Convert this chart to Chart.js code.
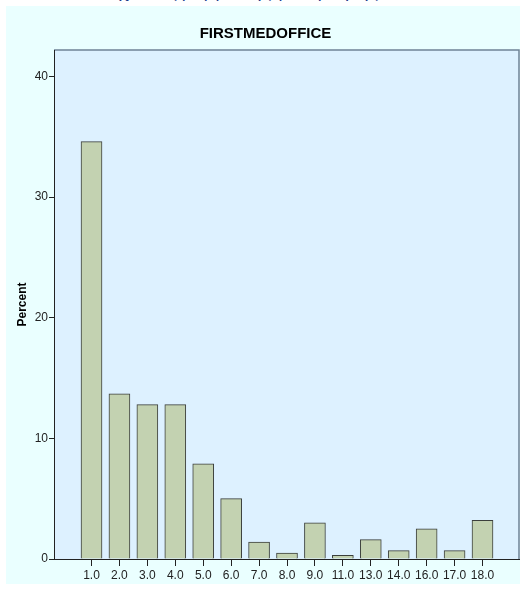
<!DOCTYPE html>
<html>
<head>
<meta charset="utf-8">
<script src="https://cdn.jsdelivr.net/npm/chart.js@4.4.1/dist/chart.umd.min.js"></script>
<style>
  html, body { margin: 0; padding: 0; background: #ffffff; }
  body { width: 522px; height: 589px; position: relative; overflow: hidden; }
  .caption {
    position: absolute; left: 120px; top: -22px; z-index: 1;
    font: italic 18px "Noto Sans", sans-serif; color: #1d3b8c; white-space: nowrap;
    letter-spacing: 1px;
  }
  .panel {
    position: absolute; left: 6px; top: 6px; width: 514px; height: 578px;
    background: #eaffff; z-index: 2;
  }
  #chart { position: absolute; left: 0; top: 0; z-index: 3; }
</style>
</head>
<body>
<div class="caption">χ(ιστόγραμμα της μεταβλητής)</div>
<div class="panel"></div>
<canvas id="chart" width="522" height="589"></canvas>
<script>
const categories = ["1.0", "2.0", "3.0", "4.0", "5.0", "6.0", "7.0", "8.0",
  "9.0", "11.0", "13.0", "14.0", "16.0", "17.0", "18.0"];
const percentValues = [34.6, 13.7, 12.8, 12.8, 7.9, 5.0, 1.4, 0.5,
  3.0, 0.3, 1.6, 0.7, 2.5, 0.7, 3.2];
const yTicks = [0, 10, 20, 30, 40];

const sans = "'Liberation Sans', Arial, sans-serif";

// fill the plot area and draw its top / right frame
const plotFrame = {
  id: "plotFrame",
  beforeDraw(chart) {
    const { ctx, chartArea: a } = chart;
    ctx.save();
    ctx.fillStyle = "#ddf1ff";
    ctx.fillRect(a.left, a.top, a.right - a.left, a.bottom - a.top);
    ctx.strokeStyle = "#6f8296";
    ctx.lineWidth = 1.5;
    ctx.beginPath();
    ctx.moveTo(a.left, a.top);
    ctx.lineTo(a.right, a.top);
    ctx.lineTo(a.right, a.bottom);
    ctx.stroke();
    ctx.restore();
  },
};

new Chart(document.getElementById("chart"), {
  type: "bar",
  data: {
    datasets: [{
      label: "Percent",
      data: percentValues.map((v, i) => ({ x: i, y: v })),
      backgroundColor: "#c3d2b1",
      borderColor: "#3b3f3c",
      borderWidth: 1,
      barThickness: 21,
    }],
  },
  plugins: [plotFrame],
  options: {
    responsive: false,
    animation: false,
    layout: { padding: { left: 12, right: 3, top: 0, bottom: 0 } },
    plugins: {
      legend: { display: false },
      tooltip: { enabled: false },
      title: {
        display: true,
        text: "FIRSTMEDOFFICE",
        color: "#000000",
        font: { family: sans, size: 15, weight: "bold", lineHeight: 1.2 },
        padding: { top: 25, bottom: 7 },
      },
    },
    scales: {
      x: {
        type: "linear",
        offset: false,
        min: -1.343,
        max: 15.307,
        afterBuildTicks: (scale) => {
          scale.ticks = categories.map((c, i) => ({ value: i }));
        },
        afterFit: (scale) => { scale.height = 30; },
        ticks: {
          autoSkip: false,
          maxRotation: 0,
          padding: 2,
          color: "#222222",
          font: { family: sans, size: 12 },
          callback: (v) => categories[v],
        },
        grid: { drawOnChartArea: false, offset: false, tickLength: 7, tickColor: "#222222" },
        border: { color: "#222222", width: 1 },
      },
      y: {
        min: 0,
        max: 42.2,
        afterBuildTicks: (scale) => {
          scale.ticks = yTicks.map((v) => ({ value: v }));
        },
        afterFit: (scale) => { scale.width = 42; },
        ticks: {
          padding: 1,
          color: "#222222",
          font: { family: sans, size: 12 },
        },
        grid: { drawOnChartArea: false, tickLength: 5, tickColor: "#222222" },
        border: { color: "#222222", width: 1 },
        title: {
          display: true,
          text: "Percent",
          color: "#000000",
          font: { family: sans, size: 12, weight: "bold" },
          padding: { top: 3, bottom: 8 },
        },
      },
    },
  },
});
</script>
</body>
</html>
